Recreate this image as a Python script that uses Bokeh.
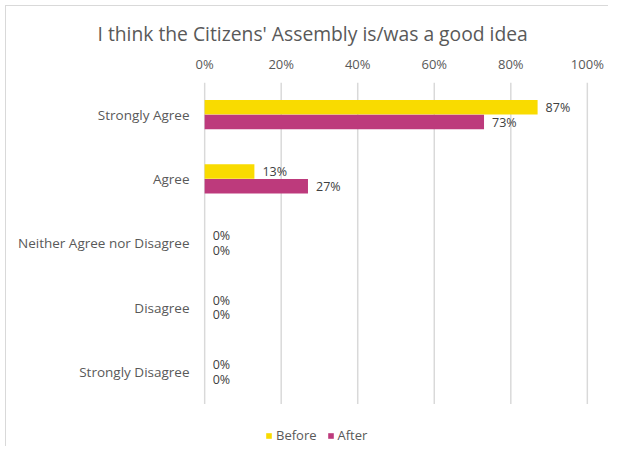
from bokeh.plotting import figure
from bokeh.models import ColumnDataSource, Range1d, Legend, LegendItem, PrintfTickFormatter, FixedTicker
from bokeh.transform import dodge
from bokeh.core.properties import value
from bokeh.embed import file_html
from bokeh.resources import INLINE

title_text = "I think the Citizens' Assembly is/was a good idea"
categories = ["Strongly Agree", "Agree", "Neither Agree nor Disagree", "Disagree", "Strongly Disagree"]
before = [87, 13, 0, 0, 0]
after = [73, 27, 0, 0, 0]
x_ticks = [0, 20, 40, 60, 80, 100]
series_names = ["Before", "After"]

FONT = "Open Sans"
GREY = "#595959"

n = len(categories)
ypos = [n - 1 - i for i in range(n)]  # first category on top

src = ColumnDataSource(dict(
    ypos=ypos,
    before=before,
    after=after,
    before_lbl=[f"{v}%" for v in before],
    after_lbl=[f"{v}%" for v in after],
))

p = figure(
    width=603, height=441,
    y_range=Range1d(-1.1765, n - 0.5),
    x_range=Range1d(-0.3, 100.3),
    x_axis_location="above",
    output_backend="svg", toolbar_location=None,
    min_border_left=197, min_border_right=21, min_border_top=76, min_border_bottom=0,
)

p.title.text = title_text
p.title.align = "left"
p.title.offset = -106
p.title.text_font = FONT
p.title.text_font_size = "19.3px"
p.title.text_font_style = "normal"
p.title.text_color = GREY

# gridlines spanning only the category bands
grid_src = ColumnDataSource(dict(x=x_ticks, y0=[min(ypos) - 0.5] * len(x_ticks),
                                 y1=[max(ypos) + 0.5] * len(x_ticks)))
p.segment(x0="x", x1="x", y0="y0", y1="y1", source=grid_src,
          line_color="#d9d9d9", line_width=1.5)

r1 = p.hbar(y=dodge("ypos", 0.115), right="before", left=0, height=0.225,
            source=src, fill_color="#F9DB00", line_color=None)
r2 = p.hbar(y=dodge("ypos", -0.115), right="after", left=0, height=0.225,
            source=src, fill_color="#BD3A7C", line_color=None)

p.text(x="before", y=dodge("ypos", 0.115), text="before_lbl", source=src,
       x_offset=8, text_align="left", text_baseline="middle", text_font_size="12.5px",
       text_color="#404040", text_font=value(FONT))
p.text(x="after", y=dodge("ypos", -0.115), text="after_lbl", source=src,
       x_offset=8, text_align="left", text_baseline="middle", text_font_size="12.5px",
       text_color="#404040", text_font=value(FONT))

# x axis
xa = p.xaxis[0]
xa.ticker = FixedTicker(ticks=x_ticks)
xa.formatter = PrintfTickFormatter(format="%d%%")
xa.axis_line_color = None
xa.major_tick_line_color = None
xa.minor_tick_line_color = None
xa.major_label_text_font = FONT
xa.major_label_text_font_size = "13px"
xa.major_label_text_color = GREY
xa.major_label_standoff = 4

ya = p.yaxis[0]
ya.ticker = FixedTicker(ticks=ypos)
ya.major_label_overrides = {int(y): c for y, c in zip(ypos, categories)}
ya.axis_line_color = None
ya.major_tick_line_color = None
ya.minor_tick_line_color = None
ya.major_label_text_font = FONT
ya.major_label_text_font_size = "13.5px"
ya.major_label_text_color = GREY
ya.major_label_standoff = 8

p.xgrid.grid_line_color = None
p.ygrid.grid_line_color = None
p.outline_line_color = None

legend = Legend(items=[LegendItem(label=series_names[0], renderers=[r1]),
                       LegendItem(label=series_names[1], renderers=[r2])],
                orientation="horizontal", location=(62, 2),
                glyph_width=7, glyph_height=7, label_height=20,
                label_text_font=FONT, label_text_font_size="13px", label_text_color=GREY,
                label_text_baseline="middle",
                border_line_color=None, background_fill_alpha=0,
                spacing=10, label_standoff=4, padding=0, margin=0)
p.add_layout(legend, "center")

p.styles = {"border-left": "1px solid #d9d9d9", "border-top": "1px solid #d9d9d9",
            "margin-left": "5px", "margin-top": "5px"}

open("out.html", "w").write(file_html(p, INLINE))
